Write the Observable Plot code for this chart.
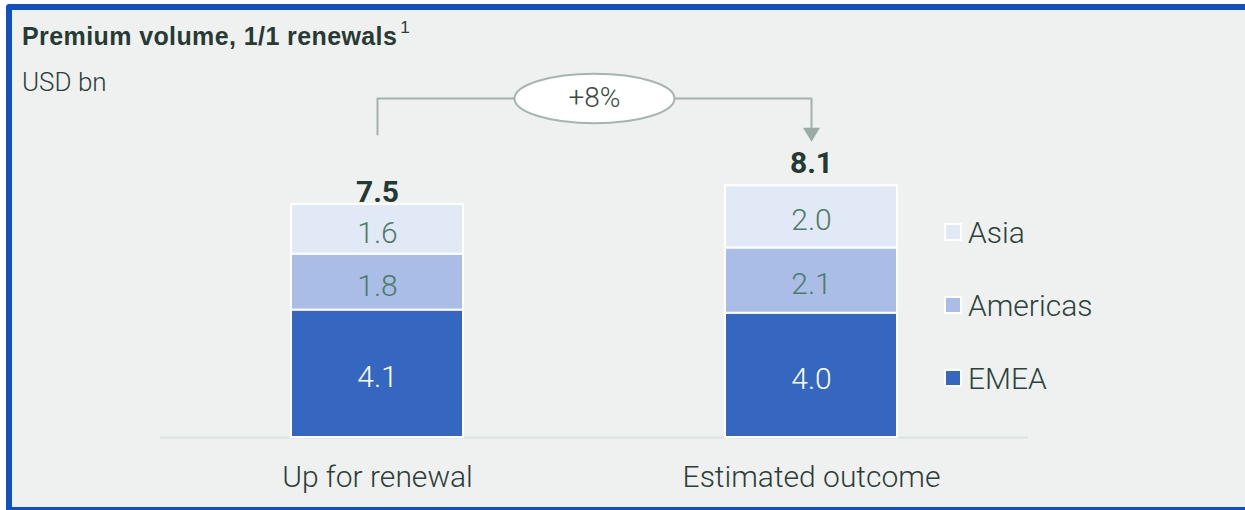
<!DOCTYPE html>
<html>
<head>
<meta charset="utf-8">
<script src="https://cdn.jsdelivr.net/npm/d3@7"></script>
<script src="https://cdn.jsdelivr.net/npm/@observablehq/plot@0.6"></script>
<style>
  html, body { margin: 0; padding: 0; background: #ffffff; overflow: hidden; }
  #chart { position: relative; width: 1245px; height: 510px; overflow: hidden; background: #eff1f0; }
  #frame { position: absolute; left: 6px; top: 4px; right: -20px; bottom: 0px;
           border-left: 6px solid #1150c0; border-top: 6px solid #1150c0;
           border-bottom: 3px solid #1150c0; border-top-left-radius: 4px; }
  #cornerTop { position: absolute; left: 0; top: 0; width: 1245px; height: 4px; background: #ffffff; }
  #cornerLeft { position: absolute; left: 0; top: 0; width: 6px; height: 510px; background: #ffffff; }
  #plot { position: absolute; left: 0; top: 0; }
  .title { position: absolute; left: 22px; top: 17px; font-family: "Liberation Sans", Arial, sans-serif;
           font-weight: bold; font-size: 25px; letter-spacing: 0.4px; color: #273b34; white-space: nowrap; line-height: 28px; }
  .title sup { font-weight: normal; font-size: 17px; position: relative; top: -3px; margin-left: 3px; letter-spacing: 0; }
  .subtitle { position: absolute; left: 22px; top: 67px; font-family: Roboto, sans-serif; font-weight: 300;
              font-size: 26px; color: #2c3e38; line-height: 30px; white-space: nowrap; }
  .legend { position: absolute; left: 944px; top: 0; font-family: Roboto, sans-serif; font-weight: 300;
            font-size: 30px; color: #2c433b; }
  .legend .item { position: absolute; left: 0; display: flex; align-items: center; height: 36px; white-space: nowrap; }
  .legend .sw { width: 14px; height: 14px; border: 2px solid #ffffff; margin-right: 6px; }
</style>
</head>
<body>
<div id="chart">
  <div id="cornerTop"></div>
  <div id="cornerLeft"></div>
  <div id="frame"></div>
  <div id="plot"></div>
  <div class="title">Premium volume, 1/1 renewals<sup>1</sup></div>
  <div class="subtitle">USD bn</div>
  <div class="legend" id="legend"></div>
</div>
<script>
// ---- data ----
const categories = ["Up for renewal", "Estimated outcome"];
const regions = ["EMEA", "Americas", "Asia"];
const emea = [4.1, 4.0];
const americas = [1.8, 2.1];
const asia = [1.6, 2.0];
const totals = [7.5, 8.1];
const changeLabel = "+8%";
const regionColors = ["#3566c0", "#a9bde6", "#e1e8f6"];
const legendOrder = ["Asia", "Americas", "EMEA"];

// table built from the arrays
const seriesByRegion = {EMEA: emea, Americas: americas, Asia: asia};
const rows = [];
categories.forEach((c, i) => {
  regions.forEach(r => rows.push({category: c, region: r, value: seriesByRegion[r][i]}));
});
const totalRows = categories.map((c, i) => ({category: c, total: totals[i]}));

// annotation levels (data units)
const bracketTop = 10.91;
const bracketStart = 9.75;
const arrowLevel = 9.75;

const ellipseSymbol = {
  draw(ctx, size) {
    const r = Math.sqrt(size / Math.PI);
    const rx = r, ry = r * 0.31, k = 0.5523;
    ctx.moveTo(rx, 0);
    ctx.bezierCurveTo(rx, k * ry, k * rx, ry, 0, ry);
    ctx.bezierCurveTo(-k * rx, ry, -rx, k * ry, -rx, 0);
    ctx.bezierCurveTo(-rx, -k * ry, -k * rx, -ry, 0, -ry);
    ctx.bezierCurveTo(k * rx, -ry, rx, -k * ry, rx, 0);
    ctx.closePath();
  }
};
const downTriangle = {
  draw(ctx, size) {
    const r = Math.sqrt(size / Math.PI);
    ctx.moveTo(-r, -0.8 * r);
    ctx.lineTo(r, -0.8 * r);
    ctx.lineTo(0, 0.85 * r);
    ctx.closePath();
  }
};

const plot = Plot.plot({
  width: 1245,
  height: 510,
  marginLeft: 160,
  marginRight: 217,
  marginTop: 95.2,
  marginBottom: 73,
  style: {background: "transparent", fontFamily: "Roboto, sans-serif", fontWeight: 300, fontSize: "30px", color: "#2c3e38"},
  x: {domain: categories, paddingInner: 0.604, paddingOuter: 0.302, tickSize: 0, tickPadding: 28, label: null},
  y: {domain: [0, 11], axis: null},
  color: {domain: regions, range: regionColors},
  marks: [
    Plot.ruleY([0], {stroke: "#d9e3e0", strokeWidth: 2}),
    Plot.barY(rows, Plot.stackY({x: "category", y: "value", fill: "region", stroke: "#ffffff", strokeWidth: 2, order: regions})),
    Plot.text(rows, Plot.stackY({x: "category", y: "value", order: regions, text: d => d.value.toFixed(1),
      fill: d => d.region === "EMEA" ? "#ffffff" : "#4e7b68", fontSize: 30, dy: 4})),
    Plot.text(totalRows.slice(0, 1), {x: "category", y: "total", text: d => d.total.toFixed(1), lineAnchor: "bottom",
      dy: -2.5, fontSize: 30, fontWeight: "bold", fill: "#233a32"}),
    Plot.text(totalRows.slice(1), {x: "category", y: "total", text: d => d.total.toFixed(1), lineAnchor: "bottom",
      dy: -13, fontSize: 30, fontWeight: "bold", fill: "#233a32"}),
    Plot.line([
      {category: categories[0], v: bracketStart},
      {category: categories[0], v: bracketTop},
      {category: categories[1], v: bracketTop},
      {category: categories[1], v: arrowLevel + 0.1}
    ], {x: "category", y: "v", stroke: "#a3b2ac", strokeWidth: 2, curve: "linear"}),
    Plot.dot([arrowLevel], {x: () => categories[1], y: d => d, symbol: downTriangle, r: 8.5, fill: "#9aaba4", stroke: "none"}),
    Plot.dot([bracketTop], {y: d => d, frameAnchor: "middle", symbol: ellipseSymbol, r: 80, fill: "#ffffff", stroke: "#a6b5ae", strokeWidth: 2}),
    Plot.text([changeLabel], {y: () => bracketTop, frameAnchor: "middle", text: d => d, fontSize: 28, fill: "#3a4842"})
  ]
});
document.getElementById("plot").appendChild(plot);

// legend
const legendCenters = {Asia: 232, Americas: 305, EMEA: 378};
const legend = document.getElementById("legend");
legendOrder.forEach(r => {
  const item = document.createElement("div");
  item.className = "item";
  item.style.top = (legendCenters[r] - 18) + "px";
  const sw = document.createElement("span");
  sw.className = "sw";
  sw.style.background = regionColors[regions.indexOf(r)];
  const label = document.createElement("span");
  label.textContent = r;
  item.appendChild(sw);
  item.appendChild(label);
  legend.appendChild(item);
});
</script>
</body>
</html>
